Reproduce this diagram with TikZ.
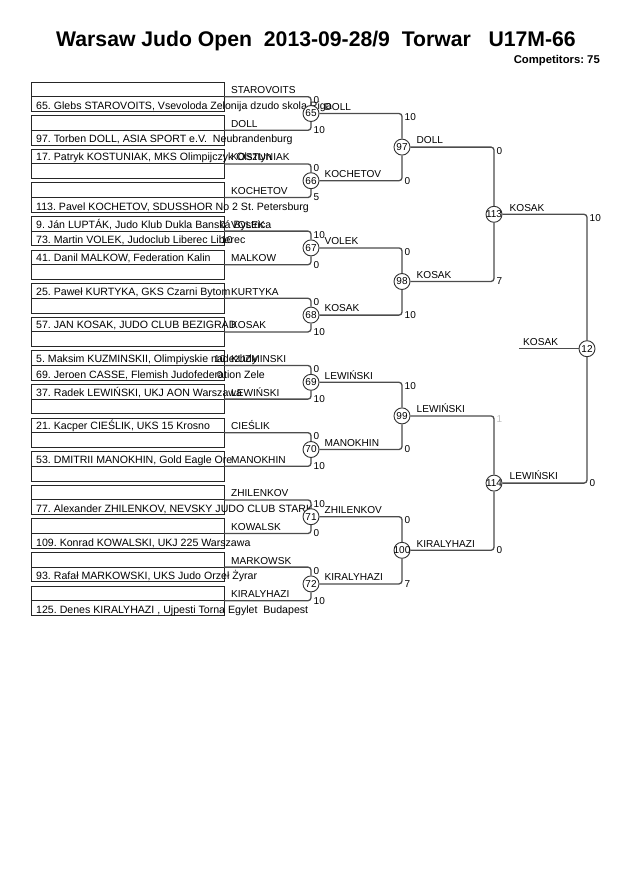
\documentclass[tikz,border=0pt]{standalone}
\usepackage{fontspec}
\setmainfont{Liberation Sans}
\usepackage{tikz}
\usetikzlibrary{positioning,calc}
\tikzset{
  entry/.style   = {draw=black!85,line width=0.9pt,anchor=north west,inner sep=0pt,
                    outer sep=0pt,minimum width=193pt,minimum height=29.4pt},
  divider/.style = {draw=black!85,line width=0.9pt},
  cname/.style   = {anchor=base west,inner sep=0pt,font=\fontsize{10.6}{12}\selectfont},
  wname/.style   = {anchor=base west,inner sep=0pt,font=\fontsize{10.1}{12}\selectfont},
  score/.style   = {inner sep=0pt,font=\fontsize{10}{12}\selectfont},
  match/.style   = {circle,draw=black!80,line width=0.9pt,fill=white,minimum size=16pt,
                    inner sep=0pt,font=\fontsize{10}{12}\selectfont},
  brk/.style     = {draw=black!70,line width=1.3pt,rounded corners=3pt},
}

\begin{document}
\frenchspacing
\begin{tikzpicture}[x=1pt,y=-1pt]
  \useasboundingbox (0,0) rectangle (630,891);
  % heading
  \node[anchor=base,inner sep=0pt,font=\fontsize{21.2}{24}\selectfont\bfseries] (title)
       at (316,47) {Warsaw Judo Open\ \ 2013-09-28/9\ \ Torwar\ \ \ U17M-66};
  \node[anchor=base east,inner sep=0pt,font=\fontsize{11.3}{13}\selectfont\bfseries] (count)
       at (600,63.5) {Competitors: 75};
  % competitor boxes
  \foreach \i/\ta/\tb/\win in {
      0/{}/{65. Glebs STAROVOITS, Vsevoloda Zelonija dzudo skola Riga}/STAROVOITS,
      1/{}/{97. Torben DOLL, ASIA SPORT e.V.\ \ Neubrandenburg}/DOLL,
      2/{17. Patryk KOSTUNIAK, MKS Olimpijczyk Olsztyn}/{}/KOSTUNIAK,
      3/{}/{113. Pavel KOCHETOV, SDUSSHOR No 2 St. Petersburg}/KOCHETOV,
      4/{9. Ján LUPTÁK, Judo Klub Dukla Banská Bystrica}/{73. Martin VOLEK, Judoclub Liberec Liberec}/VOLEK,
      5/{41. Danil MALKOW, Federation Kalin}/{}/MALKOW,
      6/{25. Paweł KURTYKA, GKS Czarni Bytom}/{}/KURTYKA,
      7/{57. JAN KOSAK, JUDO CLUB BEZIGRAD}/{}/KOSAK,
      8/{5. Maksim KUZMINSKII, Olimpiyskie nadezhdy}/{69. Jeroen CASSE, Flemish Judofederation Zele}/KUZMINSKI,
      9/{37. Radek LEWIŃSKI, UKJ AON Warszawa}/{}/LEWIŃSKI,
      10/{21. Kacper CIEŚLIK, UKS 15 Krosno}/{}/CIEŚLIK,
      11/{53. DMITRII MANOKHIN, Gold Eagle Ore}/{}/MANOKHIN,
      12/{}/{77. Alexander ZHILENKOV, NEVSKY JUDO CLUB STARK}/ZHILENKOV,
      13/{}/{109. Konrad KOWALSKI, UKJ 225 Warszawa}/KOWALSK,
      14/{}/{93. Rafał MARKOWSKI, UKS Judo Orzeł Żyrar}/MARKOWSK,
      15/{}/{125. Denes KIRALYHAZI , Ujpesti Torna Egylet\ \ Budapest}/KIRALYHAZI}{
    \node[entry] (box\i) at (31,{82+33.6*\i}) {};
    \draw[divider] (box\i.west) -- (box\i.east);
    \node[cname] (ta\i) at (36,{82+33.6*\i+11.6}) {\ta};
    \node[cname] (tb\i) at (36,{82+33.6*\i+27.3}) {\tb};
    \node[wname] (wn\i) at (231,{82+33.6*\i+11.6}) {\win};
  }
  % pool scores inside boxes
  \node[score,anchor=base west] (p4a) at (220,228) {0};
  \node[score,anchor=base west] (p4b) at (221,243.7) {10};
  \node[score,anchor=base west] (p8a) at (214,362.4) {10};
  \node[score,anchor=base west] (p8b) at (217,378.1) {0};
  % round 1
  \foreach \j/\m/\sa/\sb/\win in {0/65/0/10/DOLL,1/66/0/5/KOCHETOV,2/67/10/0/VOLEK,
      3/68/0/10/KOSAK,4/69/0/10/LEWIŃSKI,5/70/0/10/MANOKHIN,6/71/10/0/ZHILENKOV,
      7/72/0/10/KIRALYHAZI}{
    \pgfmathtruncatemacro{\ka}{2*\j}
    \pgfmathtruncatemacro{\kb}{2*\j+1}
    \node[match] (m\m) at (311,{113.5+67.2*\j}) {\makebox[0pt]{\m}};
    \draw[brk] (box\ka.east) -| (m\m.north);
    \draw[brk] (box\kb.east) -| (m\m.south);
    \node[score,anchor=north west,xshift=2.5pt] (sa\m) at (m\m |- box\ka.east) {\sa};
    \node[score,anchor=west,xshift=2.5pt] (sb\m) at (m\m |- box\kb.east) {\sb};
    \node[wname,xshift=5pt,yshift=3.3pt] (w\m) at (m\m.east) {\win};
  }
  % round 2
  \foreach \j/\m/\a/\b/\sa/\sb/\win in {0/97/65/66/10/0/DOLL,1/98/67/68/0/10/KOSAK,
      2/99/69/70/10/0/LEWIŃSKI,3/100/71/72/0/7/KIRALYHAZI}{
    \node[match] (m\m) at (402,{147.1+134.4*\j}) {\makebox[0pt]{\m}};
    \draw[brk] (m\a.east) -| (m\m.north);
    \draw[brk] (m\b.east) -| (m\m.south);
    \node[score,anchor=north west,xshift=2.5pt] (sa\m) at (m\m |- m\a.east) {\sa};
    \node[score,anchor=west,xshift=2.5pt] (sb\m) at (m\m |- m\b.east) {\sb};
    \node[wname,xshift=6pt,yshift=3.3pt] (w\m) at (m\m.east) {\win};
  }
  % semi finals
  \foreach \j/\m/\a/\b/\sa/\sb/\win/\fc in {0/113/97/98/0/7/KOSAK/black,
      1/114/99/100/1/0/LEWIŃSKI/black!25}{
    \node[match] (m\m) at (494,{214.3+268.8*\j}) {\makebox[0pt]{\m}};
    \draw[brk] (m\a.east) -| (m\m.north);
    \draw[brk] (m\b.east) -| (m\m.south);
    \node[score,anchor=north west,xshift=2.5pt,text=\fc] (sa\m) at (m\m |- m\a.east) {\sa};
    \node[score,anchor=west,xshift=2.5pt] (sb\m) at (m\m |- m\b.east) {\sb};
    \node[wname,xshift=7pt,yshift=3.3pt] (w\m) at (m\m.east) {\win};
  }
  % final
  \node[match] (m12) at (587,348.7) {\makebox[0pt]{12}};
  \draw[brk] (m113.east) -| (m12.north);
  \draw[brk] (m114.east) -| (m12.south);
  \node[score,anchor=north west,xshift=2.5pt] (sa12) at (m12 |- m113.east) {10};
  \node[score,anchor=west,xshift=2.5pt] (sb12) at (m12 |- m114.east) {0};
  \coordinate (feed) at (519,348.7);
  \draw[brk] (feed) -- (m12.west);
  \node[wname,xshift=4pt,yshift=3.3pt] (w12) at (feed) {KOSAK};
\end{tikzpicture}
\end{document}
